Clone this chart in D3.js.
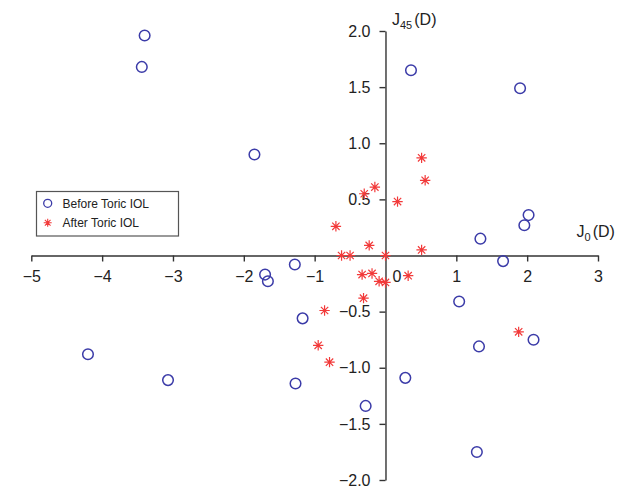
<!DOCTYPE html>
<html>
<head>
<meta charset="utf-8">
<script src="https://cdn.jsdelivr.net/npm/d3@7"></script>
<style>
  body { margin: 0; background: #fff; }
  svg { font-family: "Liberation Sans", Arial, sans-serif; }
  .axis path, .axis line { stroke: #333; stroke-width: 1.4; }
  .axis text { font-size: 16px; fill: #222; }
</style>
</head>
<body>
<script>
// before toric IOL: [J0, J45]
const beforeJ0  = [-3.40, -3.44, -1.85, 0.36, 1.90, 2.02, 1.96, 1.34, 1.66, 1.04, 1.32,
                   2.09, 0.28, -0.28, 1.29, -4.20, -3.07, -1.27, -1.17, -1.28, -1.70, -1.66];
const beforeJ45 = [1.96, 1.68, 0.90, 1.65, 1.49, 0.36, 0.27, 0.15, -0.05, -0.41, -0.81,
                   -0.75, -1.09, -1.34, -1.75, -0.88, -1.11, -1.14, -0.56, -0.08, -0.17, -0.23];
// after toric IOL
const afterJ0  = [0.51, 0.56, -0.15, -0.30, 0.17, -0.70, -0.23, 0.51, -0.62, -0.50, 0.00,
                  -0.33, -0.19, -0.09, 0.00, 0.32, -0.31, -0.86, -0.95, -0.79, 1.88];
const afterJ45 = [0.87, 0.67, 0.61, 0.55, 0.48, 0.26, 0.09, 0.05, 0.00, 0.00, 0.00,
                  -0.17, -0.16, -0.23, -0.24, -0.18, -0.38, -0.49, -0.80, -0.95, -0.68];
const xTicks = [-5, -4, -3, -2, -1, 0, 1, 2, 3];
const yTicks = [2.0, 1.5, 1.0, 0.5, -0.5, -1.0, -1.5, -2.0];
const legendLabels = ["Before Toric IOL", "After Toric IOL"];

const w = 627, h = 489;
const blue = "#3b3ba8", red = "#f23a3a";

const svg = d3.select("body").append("svg")
  .attr("width", w)
  .attr("height", h);

const x = d3.scaleLinear().domain([-5, 3]).range([31.3, 598]);
const y = d3.scaleLinear().domain([-2, 2]).range([480, 31]);

// axes crossing at the origin
svg.append("g")
  .attr("class", "axis")
  .attr("transform", "translate(0," + y(0) + ")")
  .call(d3.axisBottom(x).tickValues(xTicks).tickSize(6).tickSizeOuter(0).tickPadding(9)
    .tickFormat(d3.format("d")))
  .call(g => g.selectAll(".tick")
    .filter(d => d === 0)
    .call(t => t.select("line").remove())
    .select("text").attr("dx", 11));

svg.append("g")
  .attr("class", "axis")
  .attr("transform", "translate(" + x(0) + ",0)")
  .call(d3.axisLeft(y).tickValues(yTicks).tickSize(6).tickSizeOuter(0).tickPadding(9)
    .tickFormat(d3.format(".1f")));

// axis titles
const t45 = svg.append("text")
  .attr("x", 392).attr("y", 25)
  .style("font-size", "16px").attr("fill", "#222");
t45.append("tspan").text("J");
t45.append("tspan").attr("dy", 4).style("font-size", "11px").text("45");
t45.append("tspan").attr("dy", -4).attr("dx", 2).text("(D)");

const t0 = svg.append("text")
  .attr("x", 576.5).attr("y", 237)
  .style("font-size", "16px").attr("fill", "#222");
t0.append("tspan").text("J");
t0.append("tspan").attr("dy", 4).style("font-size", "11px").text("0");
t0.append("tspan").attr("dy", -4).attr("dx", 2).text("(D)");

function star(cx, cy, r) {
  const d = r * Math.SQRT1_2;
  return "M" + (cx - r) + "," + cy + "H" + (cx + r) +
         "M" + cx + "," + (cy - r) + "V" + (cy + r) +
         "M" + (cx - d) + "," + (cy - d) + "L" + (cx + d) + "," + (cy + d) +
         "M" + (cx - d) + "," + (cy + d) + "L" + (cx + d) + "," + (cy - d);
}

// points
svg.append("g").selectAll("circle")
  .data(d3.range(beforeJ0.length))
  .enter().append("circle")
  .attr("cx", i => x(beforeJ0[i]))
  .attr("cy", i => y(beforeJ45[i]))
  .attr("r", 5.3)
  .attr("fill", "none")
  .attr("stroke", blue)
  .attr("stroke-width", 1.5);

svg.append("g").selectAll("path")
  .data(d3.range(afterJ0.length))
  .enter().append("path")
  .attr("d", i => star(x(afterJ0[i]), y(afterJ45[i]), 5.2))
  .attr("fill", "none")
  .attr("stroke", red)
  .attr("stroke-width", 1.2);

// legend
const legend = svg.append("g").attr("transform", "translate(36.5,191.5)");
legend.append("rect")
  .attr("width", 142).attr("height", 44.5)
  .attr("fill", "#fff")
  .attr("stroke", "#555")
  .attr("stroke-width", 1.2);
legend.append("circle")
  .attr("cx", 11.2).attr("cy", 11.8).attr("r", 4)
  .attr("fill", "none").attr("stroke", blue).attr("stroke-width", 1.3);
legend.append("path")
  .attr("d", star(11.2, 31.2, 4))
  .attr("fill", "none").attr("stroke", red).attr("stroke-width", 1.1);
legend.selectAll("text.lab")
  .data(legendLabels)
  .enter().append("text")
  .attr("class", "lab")
  .attr("x", 26)
  .attr("y", (d, i) => 16 + i * 19.3)
  .style("font-size", "12px")
  .attr("fill", "#222")
  .text(d => d);
</script>
</body>
</html>
